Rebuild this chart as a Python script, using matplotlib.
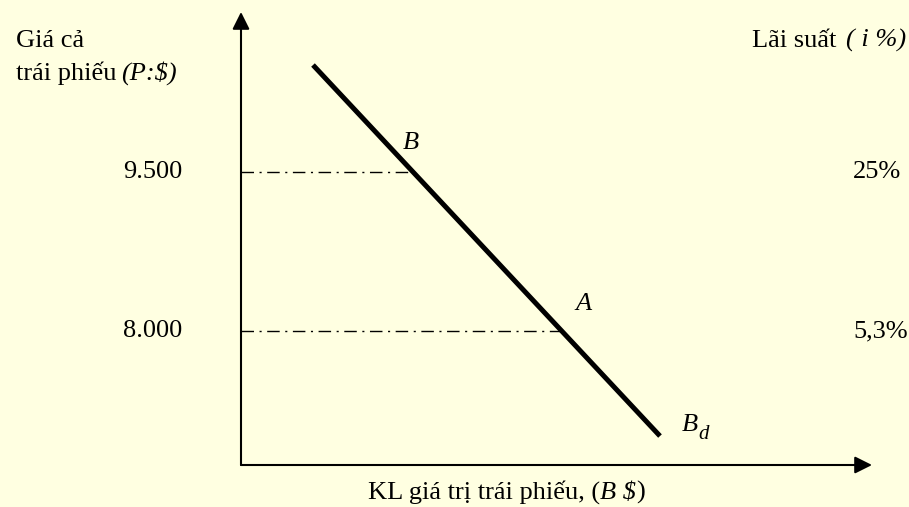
import numpy as np
import matplotlib
matplotlib.use("Agg")
import matplotlib.pyplot as plt

# data
demand_q = [72, 419]          # quantity of bonds (arbitrary units)
demand_p = [10509, 7009]      # bond price ($)
price_levels = [9500, 8000]
price_labels = ["9.500", "8.000"]
rate_labels = ["25%", "5,3%"]
point_q = [170, 320]          # B, A
point_names = ["B", "A"]

plt.rcParams["font.family"] = ["Liberation Serif", "DejaVu Serif"]
bg = "#FFFFE1"
fs = 19
W, H = 909, 507

fig = plt.figure(figsize=(W/100, H/100), dpi=100, facecolor=bg)
ax = fig.add_axes([241/W, 42/H, (872-241)/W, (465-12)/H])
ax.set_facecolor(bg)
ax.set_xlim(0, 631)
ax.set_ylim(6736, 11009)
for s in ax.spines.values():
    s.set_visible(False)
ax.set_xticks([])
ax.set_yticks([])

# axes with arrows
arr = dict(arrowstyle="-|>", color="black", lw=1.5, mutation_scale=26, shrinkA=0, shrinkB=0)
ax.annotate("", xy=(0, 1), xytext=(0, 0), xycoords="axes fraction", arrowprops=arr)
ax.annotate("", xy=(1, 0), xytext=(0, 0), xycoords="axes fraction", arrowprops=arr)

# demand curve
ax.plot(demand_q, demand_p, color="black", lw=3.6, solid_capstyle="butt")

# dash-dot guides
for q, p in zip(point_q, price_levels):
    ax.plot([0, q], [p, p], color="black", lw=1.0, dashes=(9, 4, 1.5, 4))

# point labels
ax.text(point_q[0] - 8, price_levels[0] + 270, point_names[0], fontsize=fs, style="italic",
        ha="left", va="center")
ax.text(point_q[1] + 14, price_levels[1] + 250, point_names[1], fontsize=fs, style="italic",
        ha="left", va="center")
# curve name B_d: B and a lowered, spaced-out d
ax.annotate("B", xy=(demand_q[1], demand_p[1]), xytext=(22, 5), textcoords="offset pixels",
            fontsize=fs, style="italic", ha="left", va="baseline")
ax.annotate("d", xy=(demand_q[1], demand_p[1]), xytext=(38, -3), textcoords="offset pixels",
            fontsize=15, style="italic", ha="left", va="baseline")

# price and rate labels
for p, pl, rl in zip(price_levels, price_labels, rate_labels):
    ax.text(-59, p, pl, fontsize=fs, ha="right", va="center", clip_on=False)
    ax.text(612, p, rl, fontsize=fs, ha="left", va="center", clip_on=False)

renderer = fig.canvas.get_renderer()


def rich(x, y, parts):
    # x, y in pixels from top-left (baseline); parts = (text, italic, gap_px_before)
    for txt, it, gap in parts:
        x += gap
        t = fig.text(x / W, 1 - y / H, txt, fontsize=fs, ha="left", va="baseline",
                     style="italic" if it else "normal")
        x += t.get_window_extent(renderer).width


rich(16, 47, [("Giá cả", False, 0)])
rich(16, 80, [("trái phiếu", False, 0), ("(P:$)", True, 5)])
rich(752, 47, [("Lãi suất", False, 0), ("( i %)", True, 10)])
rich(368, 499, [("KL giá trị trái phiếu, (", False, 0), ("B $", True, 0), (")", False, 0)])

fig.savefig("out.png", dpi=100, facecolor=bg)
